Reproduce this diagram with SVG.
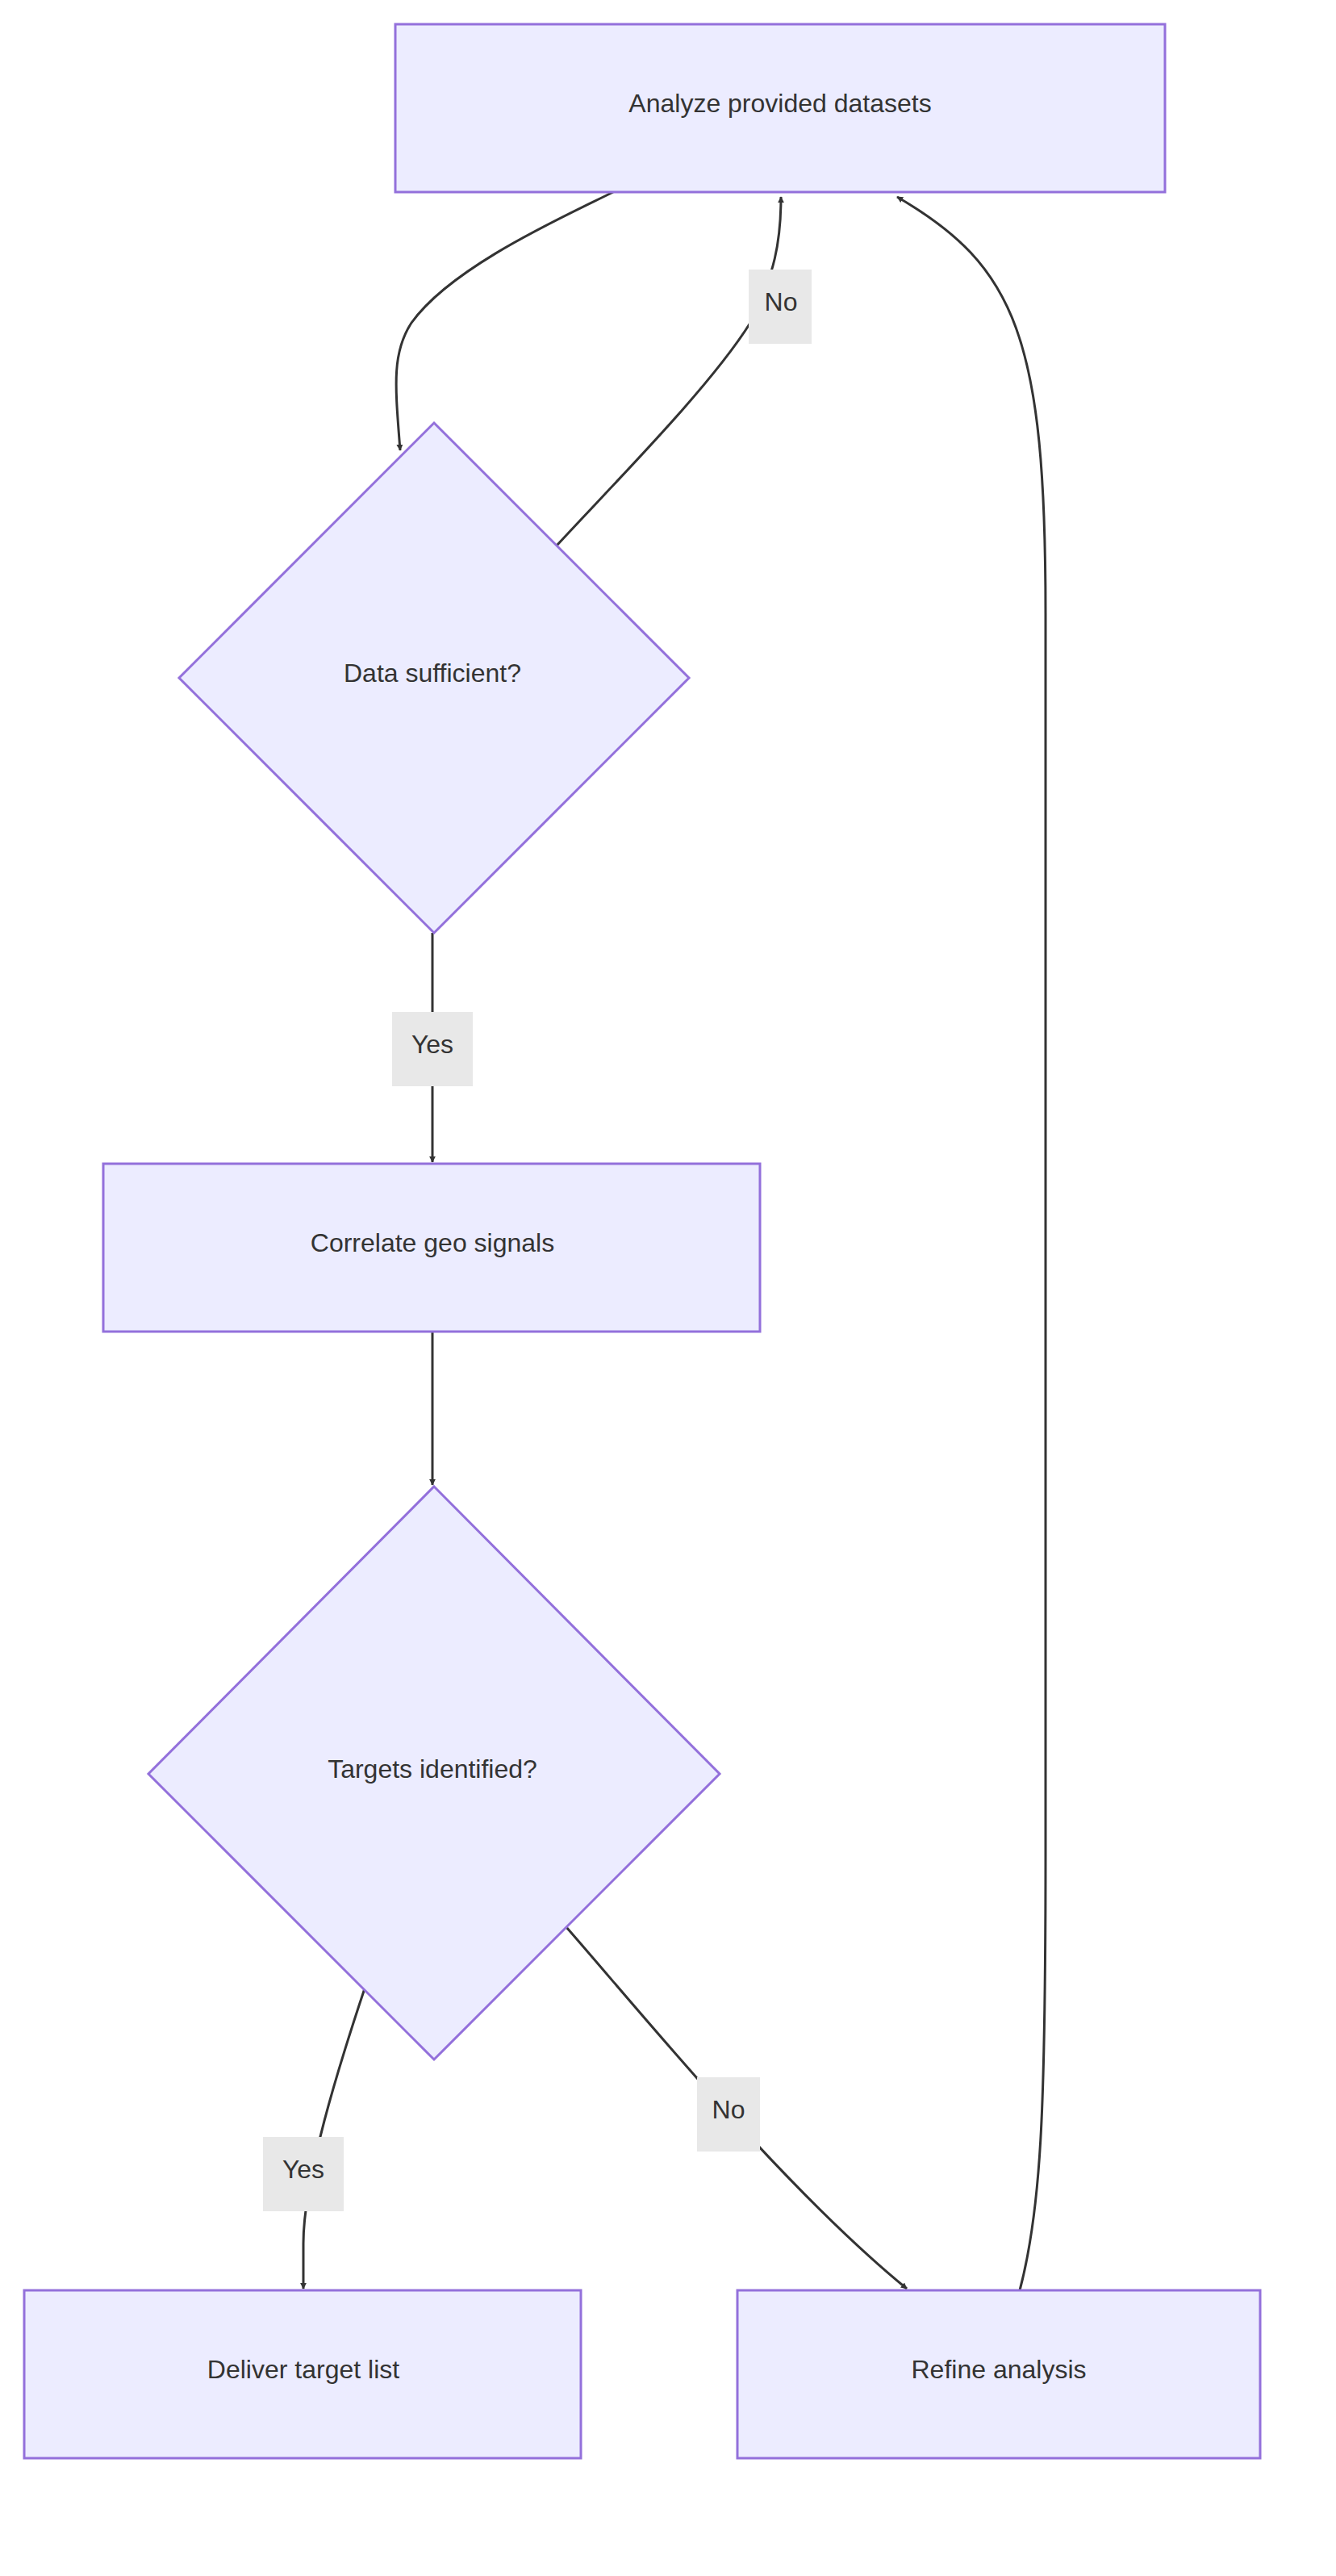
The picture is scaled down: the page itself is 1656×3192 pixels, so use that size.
<svg xmlns="http://www.w3.org/2000/svg" width="1656" height="3192" viewBox="0 0 1656 3192">
<defs>
<marker id="ah" viewBox="0 0 10 10" refX="9" refY="5" markerWidth="8" markerHeight="8" markerUnits="userSpaceOnUse" orient="auto-start-reverse"><path d="M0,0 L10,5 L0,10 z" fill="#333"/></marker>
<style>
.n{fill:#ECECFF;stroke:#9370DB;stroke-width:3}
.t{font-family:"Liberation Sans",Arial,sans-serif;font-size:32px;fill:#333;text-anchor:middle;dominant-baseline:central}
.e{fill:none;stroke:#333;stroke-width:3}
.lb{fill:#e8e8e8}
</style>
</defs>
<rect width="1656" height="3192" fill="#fff"/>
<g id="connectors">
<path class="e" d="M760,238 C700,268 560,330 510,400 C485,438 490,480 496,558" marker-end="url(#ah)"/>
<path class="e" d="M690,676 C760,600 880,480 930,400 C960,340 968,300 968,244" marker-end="url(#ah)"/>
<path class="e" d="M536,1156 L536,1440" marker-end="url(#ah)"/>
<path class="e" d="M536,1650 L536,1840" marker-end="url(#ah)"/>
<path class="e" d="M452,2464 C420,2560 376,2700 376,2780 L376,2836" marker-end="url(#ah)"/>
<path class="e" d="M702,2388 C800,2500 970,2710 1124,2836" marker-end="url(#ah)"/>
<path class="e" d="M1264,2838 C1290,2740 1296,2620 1296,2300 L1296,760 C1296,420 1260,330 1112,244" marker-end="url(#ah)"/>
</g>
<g id="lbl-no1"><rect class="lb" x="928" y="334" width="78" height="92"/><text class="t" x="968" y="374">No</text></g>
<g id="lbl-yes1"><rect class="lb" x="486" y="1254" width="100" height="92"/><text class="t" x="536" y="1294">Yes</text></g>
<g id="lbl-yes2"><rect class="lb" x="326" y="2648" width="100" height="92"/><text class="t" x="376" y="2688">Yes</text></g>
<g id="lbl-no2"><rect class="lb" x="864" y="2574" width="78" height="92"/><text class="t" x="903" y="2614">No</text></g>
<g id="analyze"><rect class="n" x="490" y="30" width="954" height="208"/><text class="t" x="967" y="128">Analyze provided datasets</text></g>
<g id="d1"><polygon class="n" points="538,524 854,840 538,1156 222,840"/><text class="t" x="536" y="834">Data sufficient?</text></g>
<g id="correlate"><rect class="n" x="128" y="1442" width="814" height="208"/><text class="t" x="536" y="1540">Correlate geo signals</text></g>
<g id="d2"><polygon class="n" points="538,1842 892,2198 538,2552 184,2198"/><text class="t" x="536" y="2192">Targets identified?</text></g>
<g id="deliver"><rect class="n" x="30" y="2838" width="690" height="208"/><text class="t" x="376" y="2936">Deliver target list</text></g>
<g id="refine"><rect class="n" x="914" y="2838" width="648" height="208"/><text class="t" x="1238" y="2936">Refine analysis</text></g>
</svg>
